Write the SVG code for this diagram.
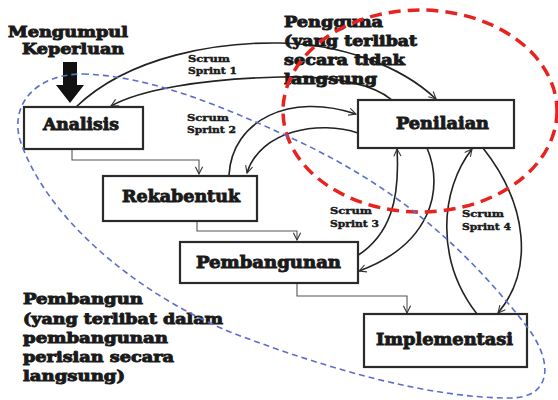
<svg xmlns="http://www.w3.org/2000/svg" width="558" height="400" viewBox="0 0 558 400">
<style>
.bx{fill:#fff;stroke:#2a2a2a;stroke-width:2.2}
.t{font-family:"DejaVu Serif",serif;font-weight:bold;fill:#1a1a1a;stroke:#1a1a1a;stroke-width:0.9}
.lb{font-size:16px}
.an{font-size:14px}
.sc{font-size:10px;stroke-width:0.45}
.cv{fill:none;stroke:#222;stroke-width:1.6}
.st{fill:none;stroke:#555;stroke-width:1.1}
</style>
<defs>
<marker id="ah" viewBox="0 0 10 10" refX="9" refY="5" markerWidth="9" markerHeight="9" markerUnits="userSpaceOnUse" orient="auto">
<path d="M1,1 L9,5 L1,9" fill="none" stroke="#333" stroke-width="1.2"/>
</marker>
</defs>
<rect width="558" height="400" fill="#fff"/>

<g id="connectors">
<path class="st" d="M72,149 V160 H199 V174" marker-end="url(#ah)"/>
<path class="st" d="M197,221 V231 H297 V240" marker-end="url(#ah)"/>
<path class="st" d="M297,283 V296 H407 V313" marker-end="url(#ah)"/>
<path class="cv" d="M76,107 C130,55 220,42 280,43 C340,44 400,65 436,99" marker-end="url(#ah)"/>
<path class="cv" d="M392,100 C370,82 330,76 280,77 C200,79 140,90 111,106" marker-end="url(#ah)"/>
<path class="cv" d="M229,175 C232,120 290,92 356,114" marker-end="url(#ah)"/>
<path class="cv" d="M358,133 C320,120 260,130 247,173" marker-end="url(#ah)"/>
<path class="cv" d="M357,256 C390,235 400,200 397,149" marker-end="url(#ah)"/>
<path class="cv" d="M427,148 C445,190 430,245 359,271" marker-end="url(#ah)"/>
<path class="cv" d="M477,314 C435,260 440,190 472,149" marker-end="url(#ah)"/>
<path class="cv" d="M483,148 C528,205 534,270 498,313" marker-end="url(#ah)"/>
</g>

<g id="arrow-in">
<polygon points="63,62 77,62 77,85 84,85 70,103 56,85 63,85" fill="#111"/>
</g>

<g id="analisis"><rect class="bx" x="24" y="107" width="119" height="42"/><text class="t lb" x="43" y="130" textLength="76" lengthAdjust="spacingAndGlyphs">Analisis</text></g>
<g id="rekabentuk"><rect class="bx" x="103" y="176" width="154" height="45"/><text class="t lb" x="122" y="202" textLength="118" lengthAdjust="spacingAndGlyphs">Rekabentuk</text></g>
<g id="pembangunan"><rect class="bx" x="180" y="242" width="178" height="41"/><text class="t lb" x="196" y="268" textLength="145" lengthAdjust="spacingAndGlyphs">Pembangunan</text></g>
<g id="penilaian"><rect class="bx" x="358" y="100" width="156" height="48"/><text class="t lb" x="396" y="129" textLength="93" lengthAdjust="spacingAndGlyphs">Penilaian</text></g>
<g id="implementasi"><rect class="bx" x="364" y="314" width="163" height="53"/><text class="t lb" x="376" y="345" textLength="137" lengthAdjust="spacingAndGlyphs">Implementasi</text></g>

<g id="mengumpul">
<text class="t an" x="8" y="37" textLength="120" lengthAdjust="spacingAndGlyphs">Mengumpul</text>
<text class="t an" x="22" y="54" textLength="102" lengthAdjust="spacingAndGlyphs">Keperluan</text>
</g>

<g id="pengguna">
<text class="t an" x="284" y="27" textLength="99" lengthAdjust="spacingAndGlyphs">Pengguna</text>
<text class="t an" x="284" y="46" textLength="133" lengthAdjust="spacingAndGlyphs">(yang terlibat</text>
<text class="t an" x="284" y="65" textLength="121" lengthAdjust="spacingAndGlyphs">secara tidak</text>
<text class="t an" x="284" y="84" textLength="93" lengthAdjust="spacingAndGlyphs">langsung</text>
</g>

<g id="pembangun">
<text class="t an" x="23" y="304" textLength="120" lengthAdjust="spacingAndGlyphs">Pembangun</text>
<text class="t an" x="23" y="324" textLength="200" lengthAdjust="spacingAndGlyphs">(yang terlibat dalam</text>
<text class="t an" x="23" y="343" textLength="145" lengthAdjust="spacingAndGlyphs">pembangunan</text>
<text class="t an" x="23" y="362" textLength="151" lengthAdjust="spacingAndGlyphs">perisian secara</text>
<text class="t an" x="23" y="381" textLength="102" lengthAdjust="spacingAndGlyphs">langsung)</text>
</g>

<g id="sprint-labels">
<text class="t sc" x="188" y="62" textLength="42" lengthAdjust="spacingAndGlyphs">Scrum</text>
<text class="t sc" x="188" y="74" textLength="49" lengthAdjust="spacingAndGlyphs">Sprint 1</text>
<text class="t sc" x="187" y="121" textLength="42" lengthAdjust="spacingAndGlyphs">Scrum</text>
<text class="t sc" x="187" y="133" textLength="49" lengthAdjust="spacingAndGlyphs">Sprint 2</text>
<text class="t sc" x="330" y="214" textLength="42" lengthAdjust="spacingAndGlyphs">Scrum</text>
<text class="t sc" x="330" y="227" textLength="49" lengthAdjust="spacingAndGlyphs">Sprint 3</text>
<text class="t sc" x="462" y="217" textLength="42" lengthAdjust="spacingAndGlyphs">Scrum</text>
<text class="t sc" x="462" y="230" textLength="49" lengthAdjust="spacingAndGlyphs">Sprint 4</text>
</g>

<g id="groups">
<ellipse cx="420" cy="111" rx="137" ry="101" fill="none" stroke="#e8231f" stroke-width="3.5" stroke-dasharray="12 7"/>
<path d="M83,74 C150,76 220,105 300,142 C390,185 460,240 528,328 C555,365 550,398 510,398 C430,398 330,370 230,332 C130,290 45,215 20,140 C10,105 35,74 83,74 Z" fill="none" stroke="#5b6fc9" stroke-width="1.6" stroke-dasharray="6 4"/>
</g>
</svg>
